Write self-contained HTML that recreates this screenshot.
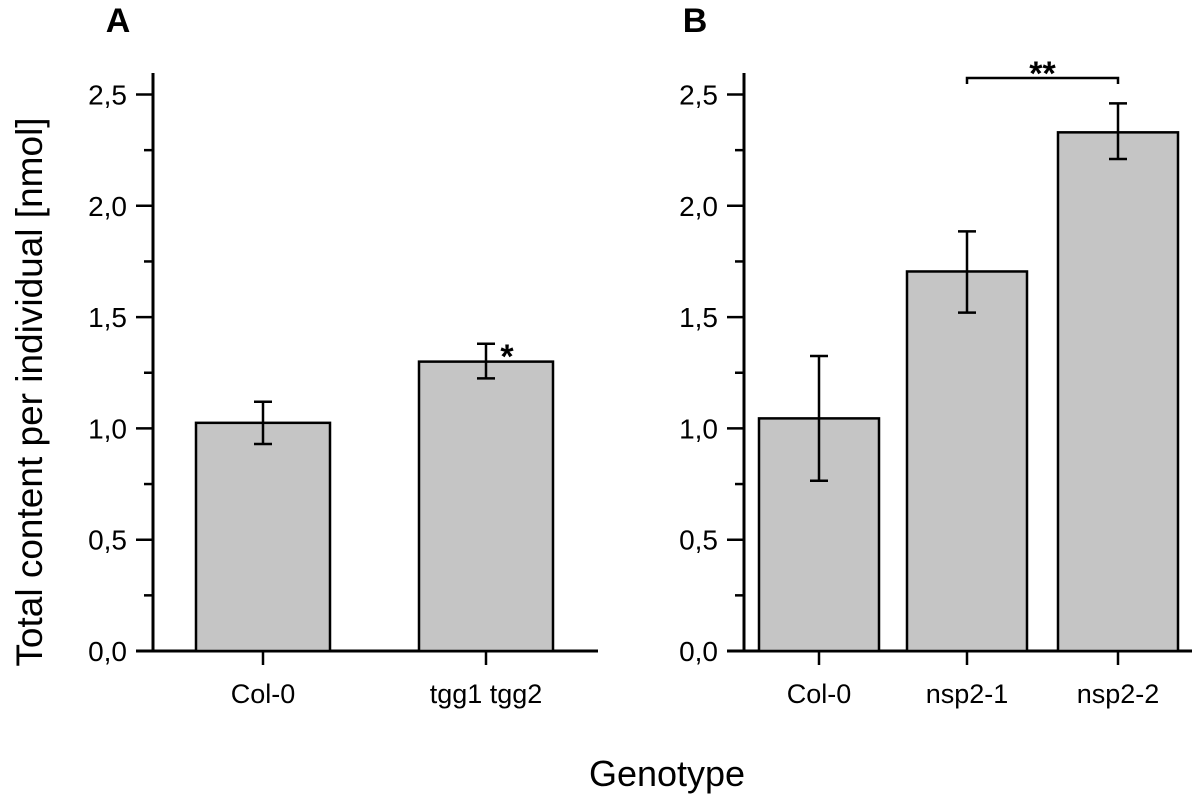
<!DOCTYPE html>
<html><head><meta charset="utf-8"><style>
html,body{margin:0;padding:0;background:#fff;}
svg{display:block;font-family:"Liberation Sans",Arial,sans-serif;}
</style></head><body>
<svg id="chart" width="1195" height="794" viewBox="0 0 1195 794" xmlns="http://www.w3.org/2000/svg"></svg>
<script>
const categoriesA = ["Col-0", "tgg1 tgg2"];
const valuesA = [1.025, 1.30];
const errLowA = [0.93, 1.225];
const errHighA = [1.12, 1.38];
const categoriesB = ["Col-0", "nsp2-1", "nsp2-2"];
const valuesB = [1.045, 1.705, 2.33];
const errLowB = [0.765, 1.52, 2.21];
const errHighB = [1.325, 1.885, 2.46];
const tickValues = [0, 0.5, 1.0, 1.5, 2.0, 2.5];
const tickLabels = ["0,0", "0,5", "1,0", "1,5", "2,0", "2,5"];

const NS = "http://www.w3.org/2000/svg";
const svg = document.getElementById("chart");
function mk(tag, attrs, parent) {
  const e = document.createElementNS(NS, tag);
  for (const k in attrs) e.setAttribute(k, attrs[k]);
  (parent || svg).appendChild(e);
  return e;
}
const y0 = 651, pxPerUnit = 222.6;
function yScale(v) { return y0 - v * pxPerUnit; }

function panel(cfg) {
  const g = mk("g", {});
  
  
  const ax = cfg.axisX;
  const yl = mk("line", {x1: ax, y1: 73, x2: ax, y2: y0, stroke: "#000", "stroke-width": 3}, g);
  
  
  const xl = mk("line", {x1: ax - 17, y1: y0, x2: cfg.axisEnd, y2: y0, stroke: "#000", "stroke-width": 3}, g);
  
  
  for (let i = 0; i < tickValues.length; i++) {
    const y = yScale(tickValues[i]);
    mk("line", {x1: ax - 17, y1: y, x2: ax, y2: y, stroke: "#000", "stroke-width": 2.5}, g);
    if (i < tickValues.length - 1) {
      const ym = yScale(tickValues[i] + 0.25);
      mk("line", {x1: ax - 9, y1: ym, x2: ax, y2: ym, stroke: "#000", "stroke-width": 2.5}, g);
    }
    const t = mk("text", {x: ax - 26, y: y + 10, "font-size": 28, "text-anchor": "end"}, g);
    t.textContent = tickLabels[i];
    
    
  }
  cfg.cats.forEach((c, i) => {
    const x1 = cfg.barX[i], w = cfg.barW, cx = x1 + w / 2;
    const r = mk("rect", {x: x1, y: yScale(cfg.vals[i]), width: w, height: y0 - yScale(cfg.vals[i]), fill: "#c5c5c5", stroke: "#000", "stroke-width": 2.5}, g);
    
    
    const eg = mk("g", {stroke: "#000", "stroke-width": 2.5}, g);
    
    
    mk("line", {x1: cx, y1: yScale(cfg.lo[i]), x2: cx, y2: yScale(cfg.hi[i])}, eg);
    mk("line", {x1: cx - 9, y1: yScale(cfg.lo[i]), x2: cx + 9, y2: yScale(cfg.lo[i])}, eg);
    mk("line", {x1: cx - 9, y1: yScale(cfg.hi[i]), x2: cx + 9, y2: yScale(cfg.hi[i])}, eg);
    mk("line", {x1: cx, y1: y0, x2: cx, y2: y0 + 14, stroke: "#000", "stroke-width": 2.5}, g);
    const t = mk("text", {x: cx, y: 703, "font-size": 27, "text-anchor": "middle"}, g);
    t.textContent = c;
    
    
  });
  const L = mk("text", {x: cfg.letterX, y: 32, "font-size": 34, "font-weight": "bold", "text-anchor": "middle"}, g);
  L.textContent = cfg.letter;
  
  
  return cfg;
}

panel({name: "panel-a", axisX: 153, axisEnd: 598, cats: categoriesA, vals: valuesA, lo: errLowA, hi: errHighA, barX: [196, 419], barW: 134, letter: "A", letterX: 118});
panel({name: "panel-b", axisX: 744, axisEnd: 1192, cats: categoriesB, vals: valuesB, lo: errLowB, hi: errHighB, barX: [759, 907, 1058], barW: 120, letter: "B", letterX: 695});

const s1 = mk("text", {x: 507, y: yScale(errHighA[1]) + 24, "font-size": 34, "font-weight": "bold", "text-anchor": "middle"});
s1.textContent = "*";


const bx1 = 907 + 60, bx2 = 1058 + 60, by = 78;
const br = mk("path", {d: `M${bx1} ${by + 6} V${by} H${bx2} V${by + 6}`, fill: "none", stroke: "#000", "stroke-width": 2.5});


const s2 = mk("text", {x: (bx1 + bx2) / 2, y: 85, "font-size": 34, "font-weight": "bold", "text-anchor": "middle"});
s2.textContent = "**";



const yt = mk("text", {x: 0, y: 0, "font-size": 37, "text-anchor": "middle", transform: "translate(42,392) rotate(-90)"});
yt.textContent = "Total content per individual [nmol]";


const xt = mk("text", {x: 667, y: 786, "font-size": 36, "text-anchor": "middle"});
xt.textContent = "Genotype";


</script>
</body></html>
